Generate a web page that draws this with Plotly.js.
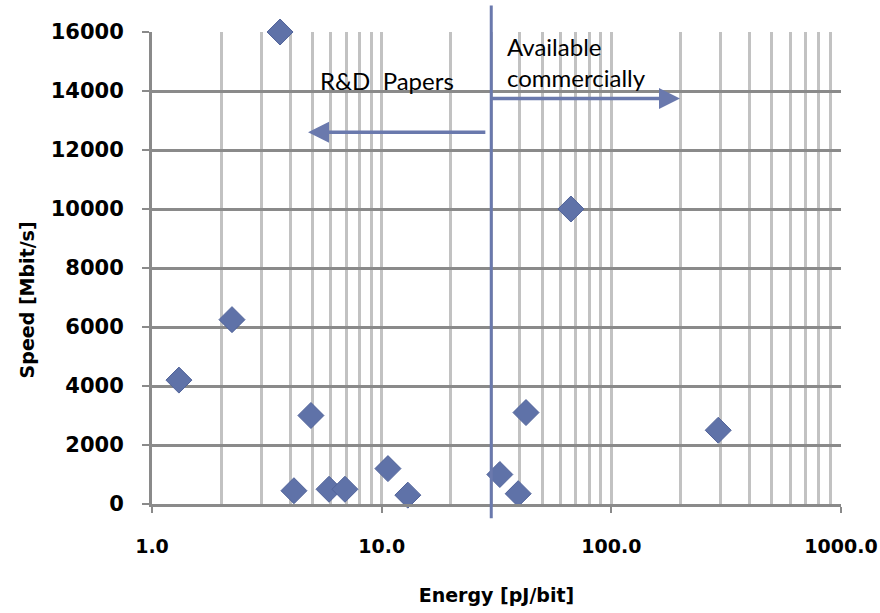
<!DOCTYPE html>
<html><head><meta charset="utf-8">
<script src="https://cdn.plot.ly/plotly-3.0.1.min.js"></script>
<style>html,body{margin:0;padding:0;background:#fff}</style>
</head><body><div id="chart" style="width:880px;height:613px"></div>
<script>
// Data
const energy = [1.31, 2.23, 3.61, 4.15, 4.92, 5.9, 6.92, 10.65, 13.0, 32.7, 39.3, 42.5, 66.7, 292];
const speed  = [4200, 6250, 16000, 450, 3000, 500, 500, 1200, 300, 1000, 350, 3100, 10000, 2500];
const dividerEnergy = 30;
const xTickVals = [1, 10, 100, 1000];
const xTickText = ['1.0', '10.0', '100.0', '1000.0'];
const yTickVals = [0, 2000, 4000, 6000, 8000, 10000, 12000, 14000, 16000];
const leftArrow  = {from: 28.7, to: 4.78, speed: 12600};
const rightArrow = {from: 29.3, to: 199, speed: 13750};
const labelRD = {text: 'R&D  Papers', energy: 5.3, speed: 14350};
const labelCom = {text: 'Available<br>commercially', energy: 34.4, speed: 14980};
const xTitle = 'Energy [pJ/bit]';
const yTitle = 'Speed [Mbit/s]';

const accent = '#6a79ad';
const L = Math.log10;

const trace = {
  x: energy, y: speed, type: 'scatter', mode: 'markers', cliponaxis: false,
  marker: {symbol: 'diamond', size: 20, color: '#5f72a8', line: {color: '#52649a', width: 1}},
  hoverinfo: 'x+y'
};

const yTickFont = {family: 'DejaVu Sans', size: 21, color: '#000', weight: 'bold'};
const xTickFont = {family: 'DejaVu Sans', size: 19, color: '#000', weight: 'bold'};
const titleFont = {family: 'DejaVu Sans', size: 19, color: '#000', weight: 'bold'};

const layout = {
  width: 880, height: 613,
  margin: {l: 152, r: 39, t: 31.5, b: 109},
  paper_bgcolor: '#fff', plot_bgcolor: '#fff',
  showlegend: false,
  xaxis: {
    type: 'log', range: [0, 3],
    tickvals: xTickVals, ticktext: xTickText,
    tickfont: xTickFont, ticks: 'outside', ticklen: 6, tickwidth: 2, tickcolor: '#8a8a8a',
    ticklabelstandoff: 17, ticklabeloverflow: 'allow',
    showgrid: true, gridcolor: '#c2c2c2', gridwidth: 3,
    minor: {dtick: 'D1', showgrid: true, gridcolor: '#c2c2c2', gridwidth: 3, ticks: ''},
    showline: true, linecolor: '#8a8a8a', linewidth: 3, mirror: false,
    zeroline: false,
    title: {text: xTitle, font: titleFont, standoff: 33}
  },
  yaxis: {
    range: [0, 16000], tickvals: yTickVals, tickformat: 'd',
    tickfont: yTickFont, ticks: 'outside', ticklen: 7, tickwidth: 2, tickcolor: '#8a8a8a',
    ticklabelstandoff: 14,
    showgrid: true, gridcolor: '#8a8a8a', gridwidth: 3,
    showline: true, linecolor: '#8a8a8a', linewidth: 3,
    zeroline: false
  },
  shapes: [{
    type: 'line', xref: 'x', yref: 'paper',
    x0: dividerEnergy, x1: dividerEnergy, y0: -0.03, y1: 1.056,
    line: {color: accent, width: 3}
  }],
  annotations: [
    {xref: 'paper', yref: 'paper', x: -0.181, y: 0.432, text: yTitle, textangle: -90,
     showarrow: false, xanchor: 'center', yanchor: 'middle', font: titleFont},
    {xref: 'x', yref: 'y', axref: 'x', ayref: 'y', x: L(leftArrow.to), y: leftArrow.speed,
     ax: L(leftArrow.from), ay: leftArrow.speed, text: '', showarrow: true,
     arrowhead: 2, arrowsize: 1.2, arrowwidth: 3.5, arrowcolor: accent},
    {xref: 'x', yref: 'y', axref: 'x', ayref: 'y', x: L(rightArrow.to), y: rightArrow.speed,
     ax: L(rightArrow.from), ay: rightArrow.speed, text: '', showarrow: true,
     arrowhead: 2, arrowsize: 1.2, arrowwidth: 3.5, arrowcolor: accent},
    {xref: 'x', yref: 'y', x: L(labelRD.energy), y: labelRD.speed, text: labelRD.text,
     showarrow: false, xanchor: 'left', yanchor: 'middle',
     font: {family: 'Lato', size: 24, color: '#000'}},
    {xref: 'x', yref: 'y', x: L(labelCom.energy), y: labelCom.speed, text: labelCom.text,
     showarrow: false, xanchor: 'left', yanchor: 'middle', align: 'left',
     font: {family: 'Lato', size: 24, color: '#000'}}
  ]
};

Plotly.newPlot('chart', [trace], layout, {displayModeBar: false, staticPlot: true});
</script>
</body></html>
